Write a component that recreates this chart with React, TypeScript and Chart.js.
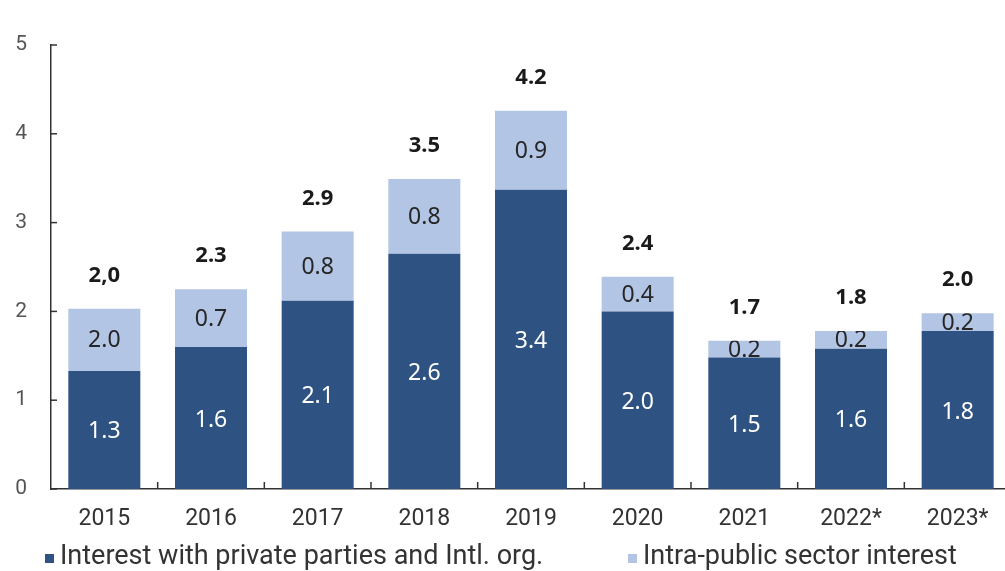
import React, { useEffect, useRef } from "react";
import { Chart, registerables } from "chart.js";

Chart.register(...registerables);

const categories = ["2015", "2016", "2017", "2018", "2019", "2020", "2021", "2022*", "2023*"];
const privateValues = [1.33, 1.6, 2.12, 2.65, 3.37, 2.0, 1.48, 1.58, 1.78];
const intraValues = [0.7, 0.65, 0.78, 0.84, 0.89, 0.39, 0.19, 0.2, 0.2];
const privateLabels = ["1.3", "1.6", "2.1", "2.6", "3.4", "2.0", "1.5", "1.6", "1.8"];
const intraLabels = ["2.0", "0.7", "0.8", "0.8", "0.9", "0.4", "0.2", "0.2", "0.2"];
const totalLabels = ["2,0", "2.3", "2.9", "3.5", "4.2", "2.4", "1.7", "1.8", "2.0"];
const seriesNames = ["Interest with private parties and Intl. org.", "Intra-public sector interest"];

const DARK = "#2E5282";
const LIGHT = "#B3C5E4";
const VALUE_FONT = "'Noto Sans', 'Open Sans', sans-serif";
const AXIS_FONT = "Roboto, sans-serif";

const overlayPlugin = {
  id: "overlay",
  afterDatasetsDraw(chart: any) {
    const ctx = chart.ctx;
    const area = chart.chartArea;
    const xs = chart.scales.x;
    const ys = chart.scales.y;
    ctx.save();
    ctx.strokeStyle = "#333";
    ctx.lineWidth = 1.5;
    ys.ticks.forEach((t: any) => {
      const py = ys.getPixelForValue(t.value);
      ctx.beginPath();
      ctx.moveTo(area.left, py);
      ctx.lineTo(area.left + 6, py);
      ctx.stroke();
    });
    const step = xs.getPixelForValue(1) - xs.getPixelForValue(0);
    for (let i = 0; i < categories.length - 1; i++) {
      const px = xs.getPixelForValue(i) + step / 2;
      ctx.beginPath();
      ctx.moveTo(px, area.bottom);
      ctx.lineTo(px, area.bottom - 7);
      ctx.stroke();
    }
    const m0 = chart.getDatasetMeta(0);
    const m1 = chart.getDatasetMeta(1);
    ctx.textAlign = "center";
    ctx.textBaseline = "middle";
    m0.data.forEach((el: any, i: number) => {
      ctx.fillStyle = "#ffffff";
      ctx.font = `23px ${VALUE_FONT}`;
      ctx.fillText(privateLabels[i], el.x, (el.y + el.base) / 2 + 2);
    });
    m1.data.forEach((el: any, i: number) => {
      const top = Math.min(el.y, el.base);
      const h = Math.abs(el.base - el.y);
      ctx.save();
      ctx.beginPath();
      ctx.rect(el.x - el.width / 2, top, el.width, h);
      ctx.clip();
      ctx.fillStyle = "#262626";
      ctx.font = `23px ${VALUE_FONT}`;
      ctx.fillText(intraLabels[i], el.x, top + h / 2 + 1);
      ctx.restore();
      ctx.fillStyle = "#1a1a1a";
      ctx.font = `bold 22px ${VALUE_FONT}`;
      ctx.fillText(totalLabels[i], el.x, top - 33);
    });
    const legendY = 557;
    const items = [
      { x: 45, color: DARK, text: seriesNames[0] },
      { x: 628, color: LIGHT, text: seriesNames[1] },
    ];
    ctx.textAlign = "left";
    items.forEach((it) => {
      ctx.fillStyle = it.color;
      ctx.fillRect(it.x, legendY - 3, 9, 9);
      ctx.fillStyle = "#333";
      ctx.font = `27px Roboto, sans-serif`;
      ctx.fillText(it.text, it.x + 15, legendY);
    });
    ctx.restore();
  },
};

export default function App() {
  const ref = useRef<HTMLCanvasElement | null>(null);
  useEffect(() => {
    if (!ref.current) return;
    const chart = new Chart(ref.current, {
      type: "bar",
      data: {
        labels: categories,
        datasets: [
          {
            label: seriesNames[0],
            data: privateValues,
            backgroundColor: DARK,
            barPercentage: 0.675,
            categoryPercentage: 1,
          },
          {
            label: seriesNames[1],
            data: intraValues,
            backgroundColor: LIGHT,
            barPercentage: 0.675,
            categoryPercentage: 1,
          },
        ],
      },
      options: {
        responsive: false,
        animation: false,
        layout: { padding: { top: 45, right: 4, left: 0, bottom: 0 } },
        plugins: { legend: { display: false }, tooltip: { enabled: false } },
        scales: {
          x: {
            stacked: true,
            grid: { display: false, drawTicks: false },
            border: { display: true, color: "#333", width: 1.5 },
            ticks: { color: "#333", font: { family: AXIS_FONT, size: 23 }, padding: 16 },
            afterFit(scale: any) {
              scale.height = 82;
            },
          },
          y: {
            stacked: true,
            min: 0,
            max: 5,
            grid: { display: false, drawTicks: false },
            border: { display: true, color: "#333", width: 1.5 },
            ticks: { stepSize: 1, color: "#555", font: { family: AXIS_FONT, size: 21 }, padding: 24 },
            afterFit(scale: any) {
              scale.width = 51;
            },
          },
        },
      },
      plugins: [overlayPlugin],
    });
    return () => chart.destroy();
  }, []);
  return (
    <div style={{ position: "absolute", left: 0, top: 0, width: 1005, height: 571, overflow: "hidden", background: "#fff" }}>
      <canvas ref={ref} width={1015} height={571} style={{ width: 1015, height: 571, display: "block" }} />
    </div>
  );
}
